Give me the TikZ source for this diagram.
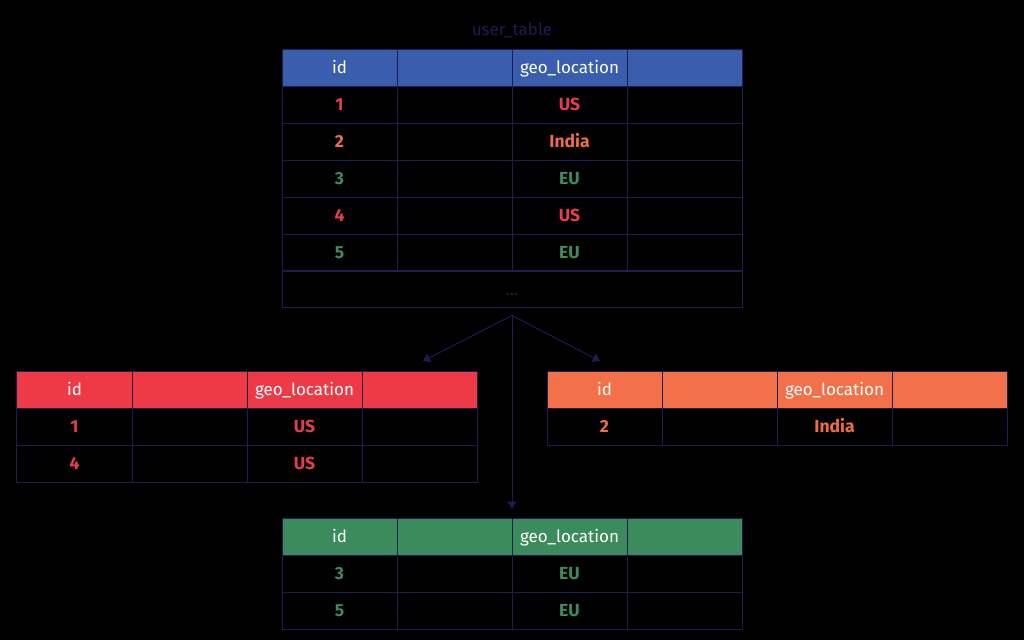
\documentclass[tikz,border=0pt]{standalone}
\usepackage{fontspec}
\setmainfont{Fira Sans}
\usetikzlibrary{arrows.meta, positioning, matrix}

\definecolor{navy}{RGB}{30,28,82}
\definecolor{headblue}{RGB}{58,93,174}
\definecolor{headred}{RGB}{238,58,71}
\definecolor{headorange}{RGB}{243,113,74}
\definecolor{headgreen}{RGB}{59,139,93}
\definecolor{usred}{RGB}{230,62,72}
\definecolor{indiaorange}{RGB}{238,108,70}
\definecolor{eugreen}{RGB}{62,138,94}

\begin{document}
\begin{tikzpicture}[x=1pt, y=-1pt,
  cell/.style={draw=navy, line width=1pt, minimum width=115pt, minimum height=37pt,
    text height=14pt, text depth=2pt,
    inner sep=0pt, outer sep=0pt, font=\fontsize{17.5}{20}\selectfont\bfseries},
  dbtable/.style={matrix of nodes, nodes in empty cells, nodes={cell},
    column sep=-1pt, row sep=-1pt, inner sep=0pt, outer sep=0pt, anchor=north west},
  head/.style={row 1/.style={nodes={fill=#1, text=white, font=\fontsize{17}{20}\selectfont}}},
  link/.style={draw=navy, line width=1pt, -{Triangle[width=9pt, length=7pt]}}
]

% black page
\fill[black] (0,0) rectangle (1024,640);
\useasboundingbox (0,0) rectangle (1024,640);

% the source table
\matrix (users) [dbtable, head=headblue,
  row 2/.style={nodes={text=usred}}, row 3/.style={nodes={text=indiaorange}},
  row 4/.style={nodes={text=eugreen}}, row 5/.style={nodes={text=usred}},
  row 6/.style={nodes={text=eugreen}}] at (281.5,48.5) {
  id & & geo\_location & \\
  1 & & US & \\
  2 & & India & \\
  3 & & EU & \\
  4 & & US & \\
  5 & & EU & \\
};
\node[cell, minimum width=460pt, anchor=north, text=navy, font=\fontsize{17}{20}\selectfont] (more) at ([yshift=1pt]users.south) {\dots};
\node[text=navy, font=\fontsize{17}{20}\selectfont, above=7pt of users] (title) {user\_table};

% the three split tables
\matrix (usa) [dbtable, head=headred, row 2/.style={nodes={text=usred}},
  row 3/.style={nodes={text=usred}}] at (16.5,370.5) {
  id & & geo\_location & \\
  1 & & US & \\
  4 & & US & \\
};

\matrix (india) [dbtable, head=headorange, row 2/.style={nodes={text=indiaorange}}] at (546.5,370.5) {
  id & & geo\_location & \\
  2 & & India & \\
};

\matrix (eu) [dbtable, head=headgreen, row 2/.style={nodes={text=eugreen}},
  row 3/.style={nodes={text=eugreen}}] at (281.5,517.5) {
  id & & geo\_location & \\
  3 & & EU & \\
  5 & & EU & \\
};

% split arrows
\coordinate (fork) at ([yshift=-8pt]more.south);
\coordinate (usa-in) at (423,361);
\coordinate (india-in) at (600,361);
\draw[link] (fork) -- (usa-in);
\draw[link] (fork) -- (india-in);
\draw[link, shorten >=9pt] (fork) -- (eu);

\end{tikzpicture}
\end{document}
